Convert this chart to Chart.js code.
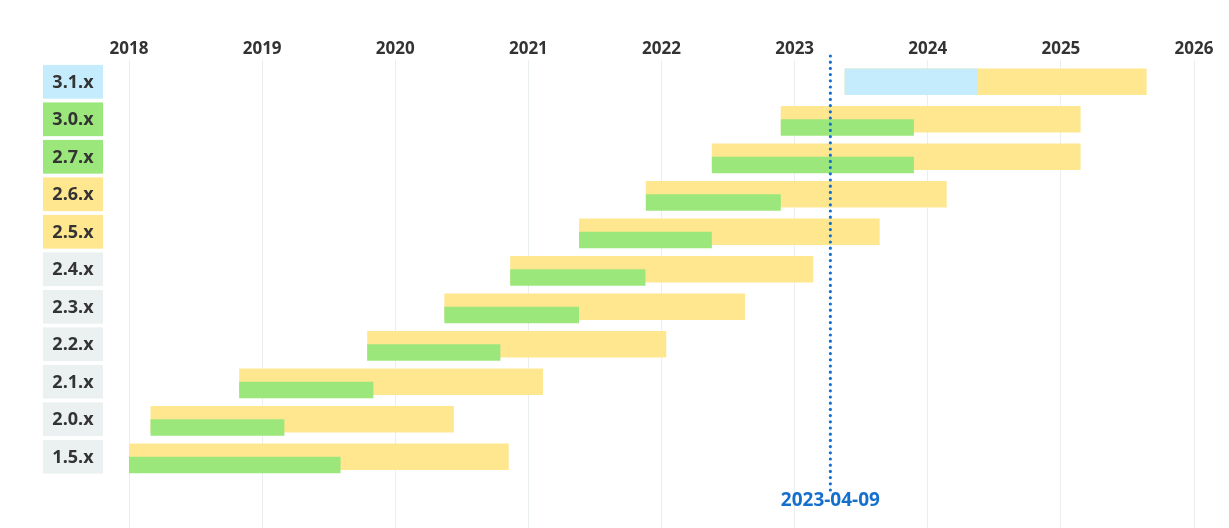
<!DOCTYPE html>
<html>
<head>
<meta charset="utf-8">
<script src="https://cdn.jsdelivr.net/npm/chart.js@4.4.0/dist/chart.umd.min.js"></script>
<style>
  html, body { margin: 0; padding: 0; background: #fff; }
  #wrap { width: 1229px; height: 528px; position: relative; }
</style>
</head>
<body>
<div id="wrap"><canvas id="chart"></canvas></div>
<script>
// support timeline per version
const versions = ['3.1.x', '3.0.x', '2.7.x', '2.6.x', '2.5.x', '2.4.x', '2.3.x', '2.2.x', '2.1.x', '2.0.x', '1.5.x'];
const releaseDates = ['2023-05-18', '2022-11-24', '2022-05-19', '2021-11-19', '2021-05-20', '2020-11-12', '2020-05-15', '2019-10-16', '2018-10-30', '2018-03-01', '2017-01-30'];
const ossEndDates = ['2024-05-18', '2023-11-24', '2023-11-24', '2022-11-24', '2022-05-19', '2021-11-18', '2021-05-20', '2020-10-16', '2019-11-02', '2019-03-03', '2019-08-04'];
const commercialEndDates = ['2025-08-24', '2025-02-24', '2025-02-24', '2024-02-22', '2023-08-22', '2023-02-21', '2022-08-18', '2022-01-14', '2021-02-10', '2020-06-10', '2020-11-08'];
const versionStatus = ['upcoming', 'oss', 'oss', 'commercial', 'commercial', 'eol', 'eol', 'eol', 'eol', 'eol', 'eol'];
const yearTicks = [2018, 2019, 2020, 2021, 2022, 2023, 2024, 2025, 2026];
const todayDate = '2023-04-09';

const COLORS = {
  upcoming: '#c4ecfc',
  oss: '#9be77c',
  commercial: '#ffe78f',
  eol: '#ebf1f1',
  text: '#333333',
  today: '#1570cd'
};

// 'YYYY-MM-DD' -> fractional year
function toYear(d) {
  const [y, m, day] = d.split('-').map(Number);
  const start = Date.UTC(y, 0, 1);
  const end = Date.UTC(y + 1, 0, 1);
  return y + (Date.UTC(y, m - 1, day) - start) / (end - start);
}

const greenData = [];
const blueData = [];
const yellowData = [];
versions.forEach((v, i) => {
  const rel = toYear(releaseDates[i]);
  const oss = toYear(ossEndDates[i]);
  yellowData.push({ y: i, x: [rel, toYear(commercialEndDates[i])] });
  if (versionStatus[i] === 'upcoming') blueData.push({ y: i, x: [rel, oss] });
  else greenData.push({ y: i, x: [rel, oss] });
});

const labelBoxes = {
  id: 'labelBoxes',
  beforeDraw(chart) {
    const ctx = chart.ctx;
    const yScale = chart.scales.y;
    const pitch = Math.abs(yScale.getPixelForValue(1) - yScale.getPixelForValue(0));
    const h = pitch * 0.9;
    ctx.save();
    versions.forEach((v, i) => {
      const cy = yScale.getPixelForValue(i);
      ctx.fillStyle = COLORS[versionStatus[i]];
      ctx.fillRect(43, cy - h / 2, 60, h);
      ctx.fillStyle = COLORS.text;
      ctx.font = 'bold 18px "Open Sans"';
      ctx.textAlign = 'center';
      ctx.textBaseline = 'middle';
      ctx.fillText(v, 73, cy + 1);
    });
    ctx.restore();
  }
};

const todayLine = {
  id: 'todayLine',
  afterDatasetsDraw(chart) {
    const ctx = chart.ctx;
    const x = chart.scales.x.getPixelForValue(toYear(todayDate));
    ctx.save();
    ctx.strokeStyle = COLORS.today;
    ctx.lineWidth = 3.2;
    ctx.lineCap = 'round';
    ctx.setLineDash([0, 6.2]);
    ctx.beginPath();
    ctx.moveTo(x, chart.chartArea.top - 4);
    ctx.lineTo(x, 490);
    ctx.stroke();
    ctx.setLineDash([]);
    ctx.fillStyle = COLORS.today;
    ctx.font = 'bold 19px "Open Sans"';
    ctx.textAlign = 'center';
    ctx.textBaseline = 'middle';
    ctx.fillText(todayDate, x, 501);
    ctx.restore();
  }
};

new Chart(document.getElementById('chart'), {
  type: 'bar',
  plugins: [labelBoxes, todayLine],
  data: {
    datasets: [
      { data: [], stack: 'top', categoryPercentage: 0.88, barPercentage: 1 },
      { data: greenData, stack: 'bottom', backgroundColor: COLORS.oss, categoryPercentage: 0.88, barPercentage: 1 },
      { data: blueData, grouped: false, backgroundColor: COLORS.upcoming, barPercentage: 0.88 },
      { data: yellowData, grouped: false, backgroundColor: COLORS.commercial, barPercentage: 0.88 }
    ]
  },
  options: {
    indexAxis: 'y',
    responsive: true,
    maintainAspectRatio: false,
    animation: false,
    layout: { padding: { left: 0, right: 35, top: 0, bottom: 0 } },
    plugins: {
      legend: { display: false },
      tooltip: { enabled: false }
    },
    scales: {
      x: {
        type: 'linear',
        position: 'top',
        min: yearTicks[0],
        max: yearTicks[yearTicks.length - 1],
        afterFit: (s) => { s.height = 60; },
        afterBuildTicks: (s) => { s.ticks = yearTicks.map(v => ({ value: v })); },
        grid: { color: '#e9eeee', drawTicks: false },
        border: { display: false },
        ticks: {
          padding: 1,
          color: COLORS.text,
          font: { family: 'Open Sans', size: 17, weight: 'bold' },
          callback: (v) => String(v)
        }
      },
      y: {
        type: 'linear',
        reverse: true,
        offset: false,
        min: -0.581,
        max: 11.9,
        afterFit: (s) => { s.width = 129; },
        afterBuildTicks: (s) => { s.ticks = versions.map((v, i) => ({ value: i })); },
        grid: { display: false, offset: false },
        border: { display: false },
        ticks: { display: false }
      }
    }
  }
});
</script>
</body>
</html>
